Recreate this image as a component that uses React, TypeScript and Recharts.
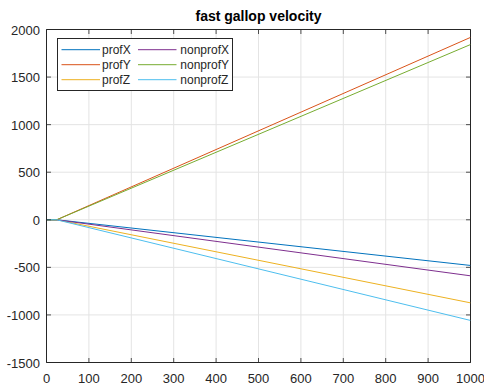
import React from "react";
import {
  LineChart,
  Line,
  XAxis,
  YAxis,
  CartesianGrid,
  Legend,
  ReferenceLine,
} from "recharts";

// ---- data ----
const X_VALUES = [0, 24, 1000];
const PROF_X = [0, 0, -480];
const PROF_Y = [0, 0, 1917];
const PROF_Z = [0, 0, -873];
const NONPROF_X = [0, 0, -589];
const NONPROF_Y = [0, 0, 1842];
const NONPROF_Z = [0, 0, -1058];

const X_TICKS = [0, 100, 200, 300, 400, 500, 600, 700, 800, 900, 1000];
const Y_TICKS = [-1500, -1000, -500, 0, 500, 1000, 1500, 2000];

const TITLE = "fast gallop velocity";

const SERIES = [
  { key: "profX", values: PROF_X, color: "#0072BD" },
  { key: "profY", values: PROF_Y, color: "#D95319" },
  { key: "profZ", values: PROF_Z, color: "#EDB120" },
  { key: "nonprofX", values: NONPROF_X, color: "#7E2F8E" },
  { key: "nonprofY", values: NONPROF_Y, color: "#77AC30" },
  { key: "nonprofZ", values: NONPROF_Z, color: "#4DBEEE" },
];

const data = X_VALUES.map((x, i) => {
  const row: Record<string, number> = { x };
  SERIES.forEach((s) => {
    row[s.key] = s.values[i];
  });
  return row;
});

// ---- layout ----
const W = 484;
const H = 387;
const PLOT_LEFT = 46.5;
const PLOT_TOP = 29.5;
const PLOT_RIGHT = 470.5;
const PLOT_BOTTOM = 362.5;
const FONT = '"Liberation Sans", Arial, Helvetica, sans-serif';
const AXIS_COLOR = "#262626";
const TICK_LEN = 4.5;

const XTick = (props: any) => {
  const { x, y, payload } = props;
  return (
    <g>
      <line x1={x} x2={x} y1={y} y2={y - TICK_LEN} stroke={AXIS_COLOR} strokeWidth={0.8} />
      <line x1={x} x2={x} y1={PLOT_TOP} y2={PLOT_TOP + TICK_LEN} stroke={AXIS_COLOR} strokeWidth={0.8} />
      <text x={x} y={y + 20.5} textAnchor="middle" fontSize={13} fontFamily={FONT} fill={AXIS_COLOR}>
        {payload.value}
      </text>
    </g>
  );
};

const YTick = (props: any) => {
  const { x, y, payload } = props;
  return (
    <g>
      <line x1={x} x2={x + TICK_LEN} y1={y} y2={y} stroke={AXIS_COLOR} strokeWidth={0.8} />
      <line x1={PLOT_RIGHT - TICK_LEN} x2={PLOT_RIGHT} y1={y} y2={y} stroke={AXIS_COLOR} strokeWidth={0.8} />
      <text x={x - 6.5} y={y + 5} textAnchor="end" fontSize={13} fontFamily={FONT} fill={AXIS_COLOR}>
        {payload.value}
      </text>
    </g>
  );
};

const LegendBox = () => {
  const rowY = [11.7, 26.7, 41.7];
  return (
    <svg width={176} height={53} style={{ display: "block" }}>
      <rect x={0.5} y={0.5} width={175} height={52} fill="#fff" stroke={AXIS_COLOR} strokeWidth={1} />
      {SERIES.map((s, i) => {
        const col = Math.floor(i / 3);
        const row = i % 3;
        const lx = col === 0 ? 4.5 : 81;
        const tx = col === 0 ? 45 : 123.3;
        const y = rowY[row];
        return (
          <g key={s.key}>
            <line x1={lx} x2={lx + 38.5} y1={y} y2={y} stroke={s.color} strokeWidth={1} />
            <text x={tx} y={y + 4.3} fontSize={12} fontFamily={FONT} fill={AXIS_COLOR}>
              {s.key}
            </text>
          </g>
        );
      })}
    </svg>
  );
};

export default function App() {
  return (
    <div style={{ position: "absolute", left: 0, top: 0, width: W, height: H, background: "#fff" }}>
      <div
        style={{
          position: "absolute",
          left: PLOT_LEFT,
          width: PLOT_RIGHT - PLOT_LEFT,
          top: 8,
          lineHeight: "16px",
          fontSize: 14,
          fontWeight: "bold",
          fontFamily: FONT,
          textAlign: "center",
          color: "#000",
        }}
      >
        {TITLE}
      </div>
      <LineChart
        width={W}
        height={H}
        data={data}
        margin={{ top: PLOT_TOP, right: W - PLOT_RIGHT, bottom: 0, left: 0 }}
      >
        <CartesianGrid stroke="#e4e4e4" strokeWidth={1} />
        <XAxis
          dataKey="x"
          type="number"
          domain={[0, 1000]}
          ticks={X_TICKS}
          interval={0}
          height={H - PLOT_BOTTOM}
          tickSize={0}
          tickMargin={0}
          tickLine={false}
          tick={<XTick />}
          axisLine={{ stroke: AXIS_COLOR, strokeWidth: 1 }}
          allowDataOverflow
        />
        <YAxis
          type="number"
          domain={[-1500, 2000]}
          ticks={Y_TICKS}
          interval={0}
          width={PLOT_LEFT}
          tickSize={0}
          tickMargin={0}
          tickLine={false}
          tick={<YTick />}
          axisLine={{ stroke: AXIS_COLOR, strokeWidth: 1 }}
          allowDataOverflow
        />
        <ReferenceLine y={2000} stroke={AXIS_COLOR} strokeWidth={1} />
        <ReferenceLine x={1000} stroke={AXIS_COLOR} strokeWidth={1} />
        {SERIES.map((s) => (
          <Line
            key={s.key}
            dataKey={s.key}
            name={s.key}
            stroke={s.color}
            strokeWidth={1}
            dot={false}
            activeDot={false}
            isAnimationActive={false}
          />
        ))}
        <Legend
          layout="vertical"
          align="center"
          verticalAlign="middle"
          content={() => <LegendBox />}
          wrapperStyle={{ position: "absolute", left: 56.5, top: 38, width: 176, height: 53 }}
        />
      </LineChart>
    </div>
  );
}
